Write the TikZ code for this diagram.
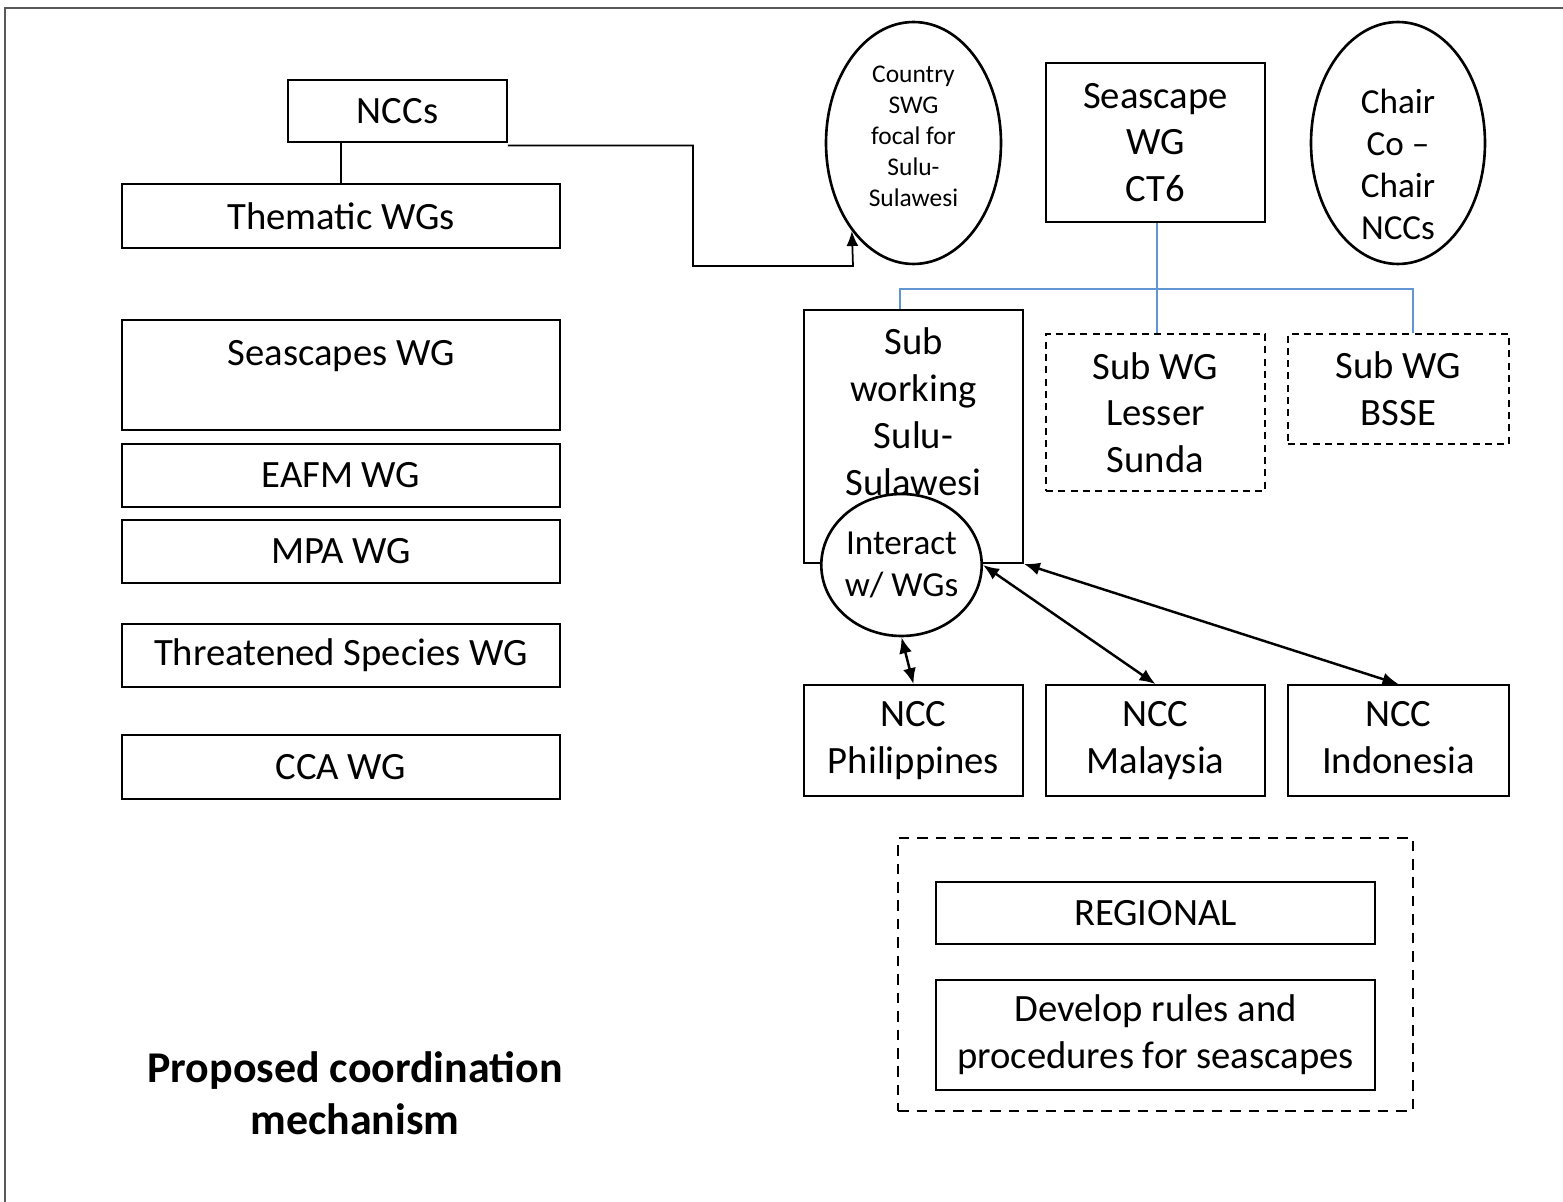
\documentclass[tikz,border=0pt]{standalone}
\usepackage{fontspec}
\setmainfont{Carlito}
\usetikzlibrary{positioning, shapes.geometric, arrows.meta}

\definecolor{linkblue}{RGB}{98,150,210}

\begin{document}
\begin{tikzpicture}[x=0.02cm, y=-0.02cm,
	big/.style={font=\fontsize{22}{26.6}\selectfont},
	mid/.style={font=\fontsize{20}{23.9}\selectfont},
	small/.style={font=\fontsize{14.5}{17.6}\selectfont},
	box/.style={draw, line width=1pt, inner sep=0pt, align=center, big},
	wgbox/.style={box, minimum width=8.76cm, minimum height=1.27cm},
	nccbox/.style={box, minimum width=4.38cm, minimum height=2.22cm},
	subbox/.style={box, dash pattern=on 4pt off 3pt, line width=0.8pt},
	oval/.style={draw, ellipse, line width=1.5pt, inner sep=0pt, align=center},
	link/.style={linkblue, line width=1.1pt},
	both/.style={{Latex[length=3.2mm,width=2.6mm]}-{Latex[length=3.2mm,width=2.6mm]}, line width=1.4pt}]

	\useasboundingbox (0,0) rectangle (1563,1202);
	\draw[black!65, line width=1.3pt] (5,1202) -- (5,8) -- (1563,8);

	% left column
	\node[box, minimum width=4.38cm, minimum height=1.24cm] (nccs) at (397.5,111) {NCCs};
	\node[wgbox] (thematic) at (341,216) {Thematic WGs};
	\node[wgbox, minimum height=2.2cm,
		label={[big, anchor=center, yshift=-0.74cm]north:Seascapes WG}] (scapes) at (341,375) {};
	\foreach \n/\y/\t in {eafm/475.5/EAFM WG, mpa/551.5/MPA WG, threat/655.5/Threatened Species WG, cca/767/CCA WG} {
		\node[wgbox] (\n) at (341,\y) {\t};
	};

	\node[font=\bfseries\fontsize{25}{29.6}\selectfont, align=center] (title) at (355,1093) {Proposed coordination\\mechanism};

	% top right
	\node[oval, minimum width=3.5cm, minimum height=4.84cm,
		label={[small, align=center, anchor=center, yshift=0.13cm]center:Country\\SWG\\focal for\\Sulu-\\Sulawesi}] (swg) at (913.5,143) {};
	\node[box, minimum width=4.38cm, minimum height=3.18cm] (ct6) at (1155.5,142.5) {Seascape\\WG\\CT6};
	\node[oval, minimum width=3.48cm, minimum height=4.84cm,
		label={[mid, align=center, anchor=center, yshift=-0.42cm]center:Chair\\Co --\\Chair\\NCCs}] (chair) at (1398,143) {};

	% sub working groups
	\node[box, minimum width=4.38cm, minimum height=5.06cm,
		label={[big, align=center, anchor=center, yshift=-2.05cm]north:Sub\\working\\Sulu-\\Sulawesi}] (sulu) at (913.5,436.5) {};
	\node[subbox, minimum width=4.38cm, minimum height=3.14cm] (sunda) at (1155.5,412.5) {Sub WG\\Lesser\\Sunda};
	\node[subbox, minimum width=4.42cm, minimum height=2.2cm] (bsse) at (1398.5,389) {Sub WG\\BSSE};
	\node[oval, mid, fill=white, minimum width=3.02cm, minimum height=2.84cm] (interact) at (901.5,565) {Interact\\w/ WGs};

	\node[nccbox] (ph) at (913.5,740.5) {NCC\\Philippines};
	\node[nccbox] (my) at (1155.5,740.5) {NCC\\Malaysia};
	\node[nccbox, minimum width=4.42cm] (id) at (1398.5,740.5) {NCC\\Indonesia\vphantom{p}};

	% regional
	\node[draw, line width=1.6pt, dash pattern=on 6pt off 4.5pt, minimum width=10.3cm, minimum height=5.46cm] (regframe) at (1155.5,974.5) {};
	\node[box, minimum width=8.78cm, minimum height=1.24cm] (regional) at (1155.5,913) {REGIONAL};
	\node[box, minimum width=8.78cm, minimum height=2.2cm] (rules) at (1155.5,1035) {Develop rules and\\procedures for seascapes};

	% links
	\draw[line width=1pt] (nccs.south -| thematic.north) -- (thematic.north);
	\coordinate (bendA) at (693,266);
	\coordinate (bendB) at (853,266);
	\draw[line width=1pt, -{Latex[length=3mm,width=2.4mm]}] ([yshift=-1.5pt]nccs.south east) -| (bendA) -- (bendB) -- (swg.235.6);

	\coordinate (branch) at (1157,289);
	\draw[link] ([xshift=0.03cm]ct6.south) -- ([xshift=0.03cm]sunda.north);
	\draw[link] ([xshift=-0.27cm]sulu.north) |- (branch) -| ([xshift=0.29cm]bsse.north);

	\draw[both] (interact.south) -- (ph.north);
	\draw[both] (interact.east) -- (my.north);
	\draw[both] (sulu.south east) -- (id.north);
\end{tikzpicture}
\end{document}
